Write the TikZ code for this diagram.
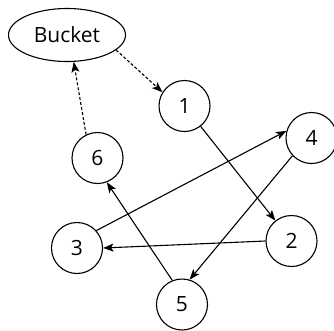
\documentclass[tikz,border=0pt]{standalone}
\usepackage{fontspec}
\setmainfont{Open Sans}
\usetikzlibrary{arrows.meta,shapes.geometric}
\begin{document}
\begin{tikzpicture}[x=1pt,y=-1pt,
  every node/.style={font=\fontsize{21}{25}\selectfont},
  num/.style={circle,draw,line width=1.1pt,minimum size=51pt,inner sep=0pt},
  bucketnode/.style={ellipse,draw,line width=1.1pt,minimum width=117pt,minimum height=53pt,inner sep=0pt},
  link/.style={line width=1.1pt,-{Stealth[length=10.5pt,width=8pt,inset=2.5pt]}},
  dlink/.style={link,dash pattern=on 3pt off 2pt}]
\useasboundingbox (0,0) rectangle (334,330);
\node[bucketnode] (b) at (67,35) {Bucket};
\node[num] (n1) at (184.5,106) {1};
\node[num] (n2) at (291.5,241) {2};
\node[num] (n3) at (77,248) {3};
\node[num] (n4) at (311.5,138) {4};
\node[num] (n5) at (182,304.5) {5};
\node[num] (n6) at (97.5,158) {6};
\draw[dlink] (b.-17) -- (n1.148);
\draw[dlink] (n6.116) -- (b.-76);
\draw[link] (n1) -- (n2);
\draw[link] (n3.42) -- (n4.164);
\draw[link] (n2.180) -- (n3.0);
\draw[link] (n4.223) -- (n5.73);
\draw[link] (n5.112) -- (n6.-69);
\end{tikzpicture}
\end{document}
